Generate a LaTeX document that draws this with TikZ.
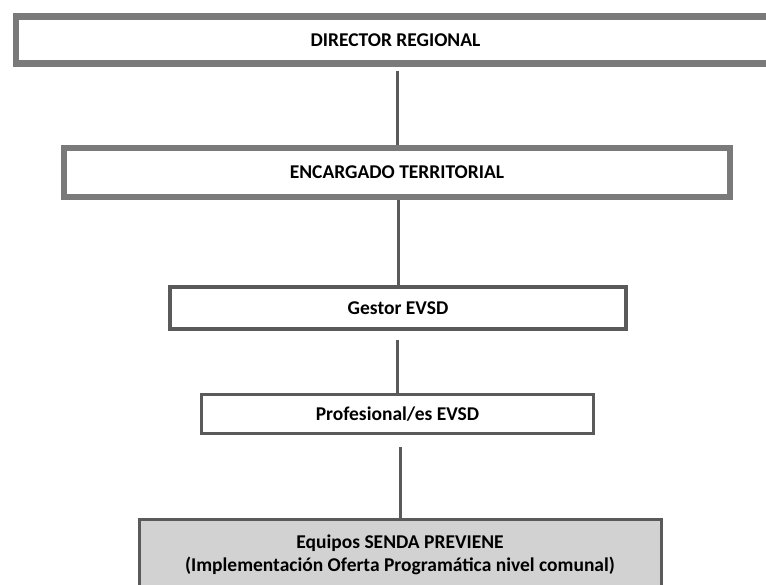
\documentclass[tikz,border=0pt]{standalone}
\usepackage{fontspec}
\setmainfont{Carlito}
\usetikzlibrary{positioning}

\definecolor{frame gray}{HTML}{7A7A7A}
\definecolor{dark gray}{HTML}{5A5A5A}
\definecolor{fill gray}{HTML}{D2D2D2}

\begin{document}
\begin{tikzpicture}[x=1pt, y=-1pt]
    \tikzset{level/.style={draw=frame gray, line width=6.5pt, fill=white, inner sep=0pt,
        font=\bfseries\fontsize{19.5}{23}\selectfont}}
    \tikzset{sublevel/.style={level, draw=dark gray, line width=3.5pt}}
    \tikzset{base/.style={level, draw=dark gray, line width=3pt, fill=fill gray, align=center}}
    \tikzset{link/.style={draw=dark gray, line width=3pt}}

    % page frame
    \useasboundingbox (0,0) rectangle (766,585);

    % boxes
    \node (director) at (395.5,40) [level, minimum width=759pt, minimum height=47pt] {DIRECTOR REGIONAL};
    \node (encargado) at (397,172.5) [level, minimum width=666pt, minimum height=49pt] {ENCARGADO TERRITORIAL};
    \node (gestor) at (398,308) [sublevel, minimum width=456pt, minimum height=42pt] {Gestor EVSD};
    \node (profesional) at (397.5,414) [sublevel, minimum width=392pt, minimum height=39pt] {Profesional/es EVSD};
    \node (equipos) at (400,555) [base, minimum width=522pt, minimum height=72pt]
        {Equipos SENDA PREVIENE\\(Implementación Oferta Programática nivel comunal)};

    % connecting lines
    \draw[link] ([yshift=-4pt]encargado.north |- director.south) -- (encargado.north);
    \draw[link] (gestor.north |- encargado.south) -- (gestor.north);
    \draw[link] ([yshift=-9pt]profesional.north |- gestor.south) -- (profesional.north);
    \draw[link] ([yshift=-12pt]equipos.north |- profesional.south) -- (equipos.north);

\end{tikzpicture}
\end{document}
